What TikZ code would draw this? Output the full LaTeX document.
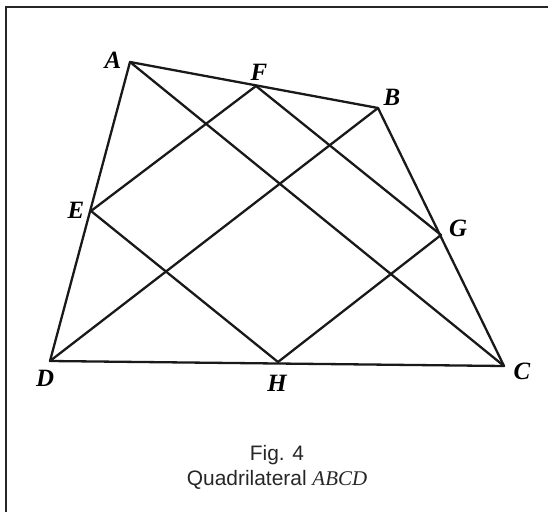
\documentclass[tikz,border=0pt]{standalone}
\usepackage{fontspec}
\setmainfont{Liberation Serif}
\setsansfont{Liberation Sans}
\begin{document}
\begin{tikzpicture}[x=1bp,y=-1bp,
  edge/.style={line width=2.3bp,line join=round,line cap=round,black!90},
  lbl/.style={font=\fontsize{25}{25}\selectfont\bfseries\itshape,inner sep=0pt},
  captext/.style={font=\sffamily\fontsize{21}{24}\selectfont,inner sep=0pt,text=black!85}]
\useasboundingbox (0,0) rectangle (548,512);
% frame (only top and left edges visible)
\draw[line width=2bp,black!85] (6,512) -- (6,7) -- (548,7);
% vertices
\coordinate (A) at (130,62);
\coordinate (B) at (378,108);
\coordinate (C) at (504,366);
\coordinate (D) at (50,361);
\coordinate (E) at (91,211);
\coordinate (F) at (256,86);
\coordinate (G) at (441,235);
\coordinate (H) at (278,362);
% quadrilateral and diagonals
\draw[edge] (A) -- (B) -- (C) -- (D) -- cycle;
\draw[edge] (A) -- (C);
\draw[edge] (B) -- (D);
\draw[edge] (E) -- (F) -- (G) -- (H) -- cycle;
% labels
\node[lbl] (lA) at (113,60) {A};
\node[lbl] (lB) at (392,97) {B};
\node[lbl] (lC) at (522,371) {C};
\node[lbl] (lD) at (45,378) {D};
\node[lbl] (lE) at (76,210) {E};
\node[lbl] (lF) at (259,72) {F};
\node[lbl] (lG) at (458,228) {G};
\node[lbl] (lH) at (277,383) {H};
% caption
\node[captext] (fig) at (277,455) {Fig. 4};
\node[captext,anchor=base] (qd) at (277,485) {Quadrilateral \textrm{\itshape ABCD}};
\end{tikzpicture}
\end{document}
